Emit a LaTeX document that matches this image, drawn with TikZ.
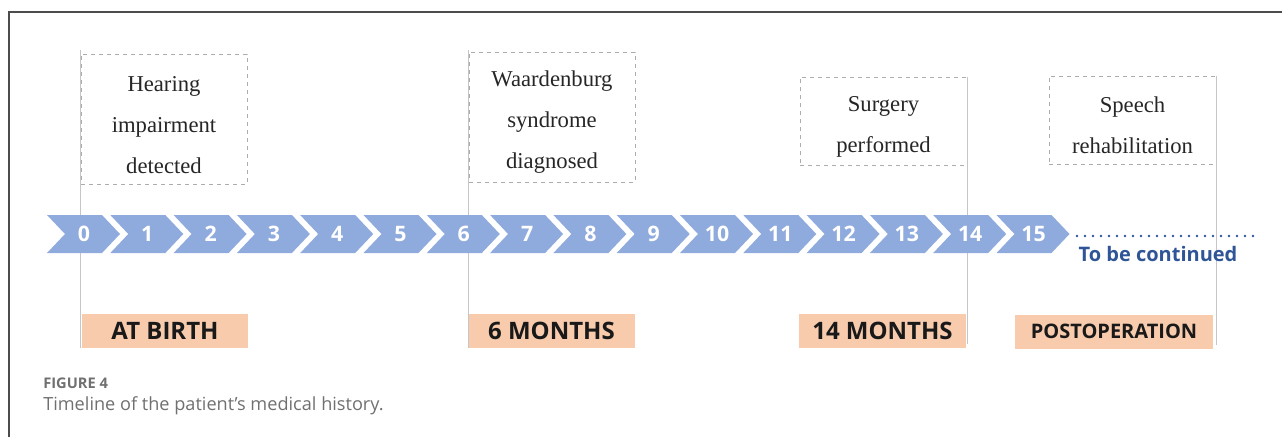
\documentclass[tikz,border=0pt]{standalone}
\usepackage{fontspec}
\setmainfont{Liberation Serif}
\newfontfamily\opensans{Open Sans}
\usepackage{xcolor}
\usetikzlibrary{positioning}
\definecolor{chevblue}{HTML}{8FAADC}
\definecolor{peach}{HTML}{F8CBAD}
\definecolor{contblue}{HTML}{2F5597}
\definecolor{capgray}{HTML}{707070}
\newcommand{\evgap}{\rule{0pt}{20pt}}

\begin{document}
\begin{tikzpicture}[
  x=0.75pt, y=-0.75pt,
  event/.style={draw=gray!65, dashed, thin, align=center, text=black!85,
    minimum width=124.5pt, font=\fontsize{17}{30.75}\selectfont},
  stage/.style={fill=peach, minimum height=25.5pt, minimum width=124.5pt,
    text=black!90, font=\opensans\bfseries\fontsize{18}{18}\selectfont},
  chev/.style={fill=chevblue},
  monthnum/.style={text=white, font=\opensans\bfseries\fontsize{16}{16}\selectfont},
  tick/.style={draw=gray!45, line width=0.8pt}
]
\useasboundingbox (0,0) rectangle (1282,437);

% Outer frame
\draw[black!70, line width=0.9pt] (9,437) -- (9,12) -- (1282,12);

% Events (dashed boxes)
\node[event, minimum height=97.5pt] (hear) at (164,119)
  {\evgap Hearing\\impairment\\detected};
\node[event, minimum height=97.5pt] (waard) at (552,117)
  {\evgap Waardenburg\\syndrome\\diagnosed};
\node[event, minimum height=66pt, minimum width=125.25pt] (surg) at (883.5,121)
  {\evgap Surgery\\performed};
\node[event, minimum height=66pt, minimum width=125.25pt] (speech) at (1132.5,120)
  {\evgap Speech\\rehabilitation};

% Stages (peach labels)
\node[stage] (birth) at (165,331) {AT BIRTH};
\node[stage] (six) at (551.5,331) {6 MONTHS};
\node[stage, minimum width=125.25pt] (fourteen) at (882.5,331) {14 MONTHS};
\node[stage, minimum width=148.5pt, font=\opensans\bfseries\fontsize{15}{15}\selectfont]
  (postop) at (1114,331.5) {POSTOPERATION};

% Ticks linking events to stages
\draw[tick] ([yshift=3pt]hear.north west) -- (hear.north west |- birth.south);
\draw[tick] ([yshift=1.5pt]waard.north west) -- (waard.north west |- six.south);
\draw[tick] (surg.north east) -- ([yshift=3pt]surg.north east |- fourteen.south);
\draw[tick] (speech.north east) -- ([yshift=3pt]speech.north east |- postop.south);

% Month chevrons
\foreach \i in {0,...,15} {
  \fill[chev] ({47+63.3*\i},215) -- ++(55,0) -- ++(18,19) -- ++(-18,19)
    -- ++(-55,0) -- ++(18,-19) -- cycle;
  \node[monthnum] (n\i) at ({84+63.3*\i},234) {\i};
}

% To be continued
\coordinate (contstart) at (1077,236);
\coordinate (contend) at (1253,236);
\draw[contblue, line width=2pt, line cap=round, dash pattern=on 0pt off 6pt]
  (contstart) -- (contend);
\node[text=contblue, font=\opensans\bfseries\fontsize{15}{15}\selectfont]
  (cont) at (1158,254) {To be continued};

% Caption
\node[anchor=west, text=capgray, inner sep=0pt,
  font=\opensans\fontsize{11}{11}\selectfont] (fig) at (43,383) {\textbf{FIGURE 4}};
\node[anchor=west, text=capgray, inner sep=0pt,
  font=\opensans\fontsize{13.6}{13.6}\selectfont] (cap) at (43,406)
  {Timeline of the patient’s medical history.};

\end{tikzpicture}
\end{document}
